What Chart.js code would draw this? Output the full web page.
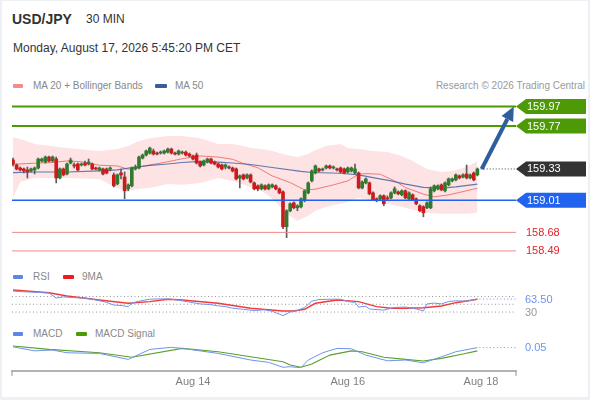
<!DOCTYPE html>
<html><head><meta charset="utf-8">
<script src="https://cdn.jsdelivr.net/npm/chart.js@4.4.1/dist/chart.umd.min.js"></script>
<style>
html,body{margin:0;padding:0;background:#edf1f5;}
body{width:590px;height:400px;overflow:hidden;position:relative;font-family:"Liberation Sans",Arial,sans-serif;}
#card{position:absolute;left:2px;top:1px;width:586px;height:396px;background:#fff;}
.t{position:absolute;white-space:nowrap;}
.sw{position:absolute;height:4px;border-radius:1px;}
canvas{position:absolute;left:0;}
</style>
</head><body>
<div id="card"></div>
<div class="t" style="left:12px;top:12px;font-size:14px;line-height:14px;font-weight:bold;color:#333">USD/JPY</div>
<div class="t" style="left:86px;top:13px;font-size:12px;line-height:12px;color:#333">30 MIN</div>
<div class="t" style="left:13px;top:42px;font-size:12px;line-height:12px;color:#333">Monday, August 17, 2026 5:45:20 PM CET</div>

<div class="sw" style="left:13px;top:84px;width:10px;background:#f78a8a"></div>
<div class="t" style="left:33px;top:81px;font-size:10px;line-height:10px;color:#888">MA 20 + Bollinger Bands</div>
<div class="sw" style="left:155px;top:84px;width:12px;background:#3a5e9a"></div>
<div class="t" style="left:175px;top:81px;font-size:10px;line-height:10px;color:#888">MA 50</div>
<div class="t" style="right:5px;top:81px;font-size:10px;line-height:10px;color:#999">Research © 2026 Trading Central</div>

<div class="sw" style="left:13px;top:275px;width:10px;background:#5b87e6"></div>
<div class="t" style="left:33px;top:272px;font-size:10px;line-height:10px;color:#888">RSI</div>
<div class="sw" style="left:63px;top:275px;width:11px;background:#ee1c1c"></div>
<div class="t" style="left:82px;top:272px;font-size:10px;line-height:10px;color:#888">9MA</div>

<div class="sw" style="left:13px;top:332px;width:10px;background:#5b87e6"></div>
<div class="t" style="left:33px;top:329px;font-size:10px;line-height:10px;color:#888">MACD</div>
<div class="sw" style="left:76px;top:332px;width:11px;background:#4e9a06"></div>
<div class="t" style="left:95px;top:329px;font-size:10px;line-height:10px;color:#888">MACD Signal</div>

<canvas id="cMain" width="590" height="165" style="top:95px"></canvas>
<canvas id="cRsi" width="590" height="37" style="top:283px"></canvas>
<canvas id="cMacd" width="590" height="75" style="top:325px"></canvas>

<script>
// ===================== DATA =====================
const candleOpen = [159.422,159.371,159.340,159.330,159.320,159.310,159.320,159.340,159.412,159.401,
159.452,159.412,159.432,159.238,159.330,159.279,159.391,159.371,159.381,159.371,
159.391,159.381,159.381,159.340,159.320,159.330,159.330,159.330,159.269,159.177,
159.289,159.248,159.126,159.157,159.330,159.340,159.442,159.473,159.493,159.514,
159.493,159.493,159.493,159.503,159.534,159.493,159.483,159.493,159.503,159.483,
159.463,159.473,159.401,159.371,159.401,159.432,159.401,159.381,159.371,159.350,
159.350,159.340,159.330,159.238,159.269,159.238,159.269,159.187,159.157,159.126,
159.157,159.126,159.146,159.157,159.126,159.095,158.738,158.902,158.983,158.932,
158.942,159.004,159.085,159.208,159.289,159.330,159.320,159.340,159.361,159.340,
159.330,159.340,159.330,159.299,159.310,159.289,159.289,159.136,159.187,159.187,
159.085,159.024,159.024,159.055,159.034,159.034,159.085,159.095,159.065,159.106,
159.024,159.065,159.024,158.953,158.942,158.932,158.932,159.106,159.126,159.167,
159.106,159.167,159.208,159.218,159.259,159.248,159.279,159.238,159.289,159.269];
const candleHigh = [159.442,159.381,159.350,159.340,159.350,159.340,159.350,159.442,159.442,159.463,
159.463,159.463,159.452,159.340,159.340,159.391,159.442,159.391,159.391,159.391,
159.412,159.432,159.391,159.350,159.350,159.340,159.340,159.350,159.289,159.279,
159.330,159.299,159.177,159.350,159.371,159.463,159.483,159.524,159.554,159.534,
159.503,159.514,159.524,159.544,159.544,159.503,159.524,159.514,159.514,159.493,
159.473,159.493,159.412,159.422,159.442,159.442,159.412,159.391,159.381,159.381,
159.361,159.350,159.340,159.269,159.279,159.279,159.279,159.197,159.167,159.177,
159.167,159.177,159.177,159.167,159.136,159.106,158.912,158.983,158.993,158.963,
159.034,159.116,159.197,159.320,159.371,159.340,159.340,159.371,159.371,159.361,
159.340,159.350,159.340,159.350,159.350,159.381,159.299,159.208,159.238,159.197,
159.095,159.034,159.065,159.065,159.055,159.095,159.146,159.106,159.116,159.116,
159.095,159.075,159.034,158.963,158.953,158.993,159.146,159.167,159.167,159.177,
159.197,159.238,159.238,159.279,159.269,159.279,159.371,159.279,159.299,159.340];
const candleLow = [159.361,159.320,159.310,159.289,159.238,159.299,159.279,159.330,159.401,159.391,
159.401,159.401,159.187,159.228,159.259,159.269,159.381,159.340,159.310,159.361,
159.361,159.371,159.320,159.320,159.310,159.269,159.279,159.310,159.146,159.167,
159.228,159.024,159.106,159.146,159.320,159.330,159.432,159.463,159.483,159.473,
159.473,159.483,159.483,159.493,159.483,159.473,159.473,159.483,159.463,159.452,
159.422,159.381,159.350,159.361,159.391,159.381,159.371,159.340,159.320,159.330,
159.330,159.299,159.218,159.136,159.218,159.228,159.187,159.116,159.106,159.116,
159.116,159.116,159.136,159.116,159.075,158.718,158.626,158.891,158.922,158.902,
158.932,158.993,159.075,159.197,159.279,159.299,159.310,159.330,159.330,159.330,
159.310,159.289,159.279,159.289,159.299,159.279,159.126,159.126,159.177,159.065,
159.004,158.993,159.014,158.953,159.014,159.024,159.075,159.065,159.055,159.024,
159.014,159.004,158.963,158.891,158.840,158.922,158.922,159.095,159.116,159.106,
159.095,159.157,159.197,159.208,159.228,159.238,159.228,159.228,159.208,159.259];
const candleClose = [159.381,159.330,159.320,159.310,159.299,159.330,159.340,159.432,159.432,159.452,
159.412,159.452,159.238,159.330,159.269,159.381,159.422,159.361,159.320,159.381,
159.371,159.401,159.330,159.330,159.340,159.279,159.289,159.340,159.157,159.269,
159.269,159.106,159.167,159.340,159.350,159.452,159.473,159.514,159.544,159.483,
159.483,159.503,159.514,159.534,159.493,159.483,159.514,159.503,159.473,159.463,
159.432,159.391,159.361,159.412,159.432,159.391,159.381,159.350,159.330,159.371,
159.340,159.310,159.228,159.259,159.228,159.269,159.197,159.126,159.126,159.167,
159.126,159.167,159.167,159.126,159.085,158.738,158.902,158.973,158.932,158.953,
159.024,159.106,159.187,159.310,159.361,159.310,159.330,159.361,159.340,159.350,
159.320,159.299,159.289,159.340,159.340,159.330,159.136,159.197,159.228,159.075,
159.014,159.014,159.055,158.973,159.024,159.085,159.126,159.075,159.106,159.034,
159.085,159.014,158.973,158.902,158.881,158.983,159.126,159.157,159.157,159.116,
159.187,159.228,159.228,159.269,159.238,159.269,159.238,159.269,159.218,159.330];

const bandX     = [0,2,6,15,24,29,32,35,38,43,47,52,57,61,64,66,69,72,74,76,79,82,84,87,91,93,96,100,104,108,111,115,119,122,126,129];
const bandUpper = [159.656,159.636,159.585,159.544,159.514,159.534,159.565,159.616,159.646,159.667,159.667,159.646,159.585,159.585,159.565,159.544,159.534,159.514,159.493,159.473,159.452,159.483,159.524,159.565,159.585,159.544,159.534,159.514,159.503,159.463,159.412,159.330,159.299,159.310,159.350,159.412];
const bandLower = [159.034,159.197,159.238,159.238,159.228,159.136,159.106,159.126,159.136,159.177,159.167,159.187,159.238,159.208,159.167,159.146,159.106,159.024,158.953,158.871,158.800,158.851,158.902,158.942,158.973,158.993,159.034,159.004,158.973,158.942,158.912,158.881,158.871,158.871,158.871,158.881];

const ma20X = [0,6,10,15,19,24,29,32,38,43,47,52,57,61,64,68,72,77,81,84,89,93,96,98,102,106,109,114,117,121,124,129];
const ma20  = [159.378,159.389,159.394,159.412,159.404,159.368,159.361,159.327,159.371,159.404,159.435,159.463,159.452,159.429,159.386,159.343,159.259,159.190,159.116,159.123,159.167,159.208,159.276,159.282,159.276,159.208,159.140,159.072,159.044,159.065,159.089,159.133];
const ma50X = [0,6,15,24,29,33,38,43,47,52,57,61,66,72,80,83,91,96,100,105,109,114,119,123,129];
const ma50  = [159.292,159.299,159.299,159.310,159.320,159.345,159.366,159.381,159.396,159.407,159.401,159.391,159.376,159.345,159.305,159.294,159.286,159.269,159.241,159.208,159.174,159.141,159.134,159.146,159.174];

const rsiX = [0,3,6,10,12,14,17,20,22,24,26,28,30,32,33,35,38,41,44,47,50,52,55,57,59,61,64,67,70,72,75,77,79,81,83,85,88,91,93,95,96,98,99,103,106,109,112,114,115,117,119,121,123,126,129];
const rsi  = [84,82,81,79,66,69,67,66,63,59,55,48,47,44,53,58,63,64,63,59,54,51,49,46,44,40,37,34,36,32,21,30,34,42,58,62,63,63,57,55,43,45,38,35,42,43,38,33,51,53,51,57,59,58,63.5];
const rsiMaX = [0,10,15,24,32,38,43,47,57,66,75,78,81,84,90,96,101,105,109,114,119,123,129];
const rsiMa  = [86.7,79.7,71.3,61,52.6,56.7,62.8,61,52.6,39.8,32.9,32.9,37.2,52.6,61,56.7,43.9,39.8,39.8,41.3,45.7,54.1,62.8];

const macdX = [0,6,11,15,24,32,38,44,47,57,66,71,75,77,80,82,86,90,94,98,104,109,114,119,123,129];
const macd  = [0.056,0.025,0.031,0.010,0.005,-0.041,0.036,0.052,0.044,0.005,-0.046,-0.064,-0.102,-0.098,-0.105,-0.046,0.010,0.044,0.041,-0.008,-0.052,-0.046,-0.067,-0.021,0.018,0.05];
const signalX = [0,10,24,33,47,57,66,75,77,80,83,88,94,97,103,109,114,119,125,129];
const signal  = [0.062,0.036,0.010,-0.025,0.044,0.018,-0.021,-0.059,-0.085,-0.102,-0.077,-0.008,0.025,0.018,-0.025,-0.041,-0.054,-0.033,0,0.025];

const xTickIdx    = [50, 93, 130];
const xTickLabels = ['Aug 14', 'Aug 16', 'Aug 18'];

const resistanceLevels = [159.97, 159.77];
const lastPrice = 159.33;
const supportLevels = [159.01];
const lowerLevels = [158.68, 158.49];
const arrowTarget = 159.97;
const rsiGuides = [70, 50, 30];
const rsiAxisLabel = 30;
const rsiLast = 63.50;
const macdLast = 0.05;

// ===================== STYLE / LAYOUT =====================
const FONT = '"Liberation Sans", Arial, sans-serif';
const UP = '#2e7d2e', DOWN = '#d0191b', WICK = '#5a5a5a';
const GREEN = '#4e9a06', BLUE = '#1f63ee', DARK = '#333333', LRED = '#f28a8a', TRED = '#e8202a';
const RSI_BLUE = '#6f93ec', MA_RED = '#f03a3a', SIG_GREEN = '#5aa02a';
const X_MIN = -0.28, X_MAX = 139.72;
const ARROW_FROM = 130.2, ARROW_TO = 139.1;
const PAD = {left: 12, right: 74, top: 0, bottom: 0};

const pts = (xs, ys) => xs.map((x, i) => ({x: x, y: ys[i]}));
const hiddenX = () => ({type: 'linear', min: X_MIN, max: X_MAX, offset: false, display: false});
const common = {
  responsive: false, animation: false, events: [],
  layout: {padding: PAD},
  plugins: {legend: {display: false}, tooltip: {enabled: false}}
};

function tag(ctx, x, y, text, fill) {
  const h = 7.5;
  ctx.save();
  ctx.beginPath();
  ctx.moveTo(x, y); ctx.lineTo(x + 10, y - h); ctx.lineTo(586, y - h);
  ctx.lineTo(586, y + h); ctx.lineTo(x + 10, y + h); ctx.closePath();
  ctx.fillStyle = fill; ctx.fill();
  ctx.fillStyle = '#fff'; ctx.font = '11px ' + FONT;
  ctx.textAlign = 'left'; ctx.textBaseline = 'middle';
  ctx.fillText(text, x + 11, y + 0.5);
  ctx.restore();
}
function hline(ctx, x0, x1, y, color, w, dash) {
  ctx.save(); ctx.beginPath(); ctx.strokeStyle = color; ctx.lineWidth = w;
  ctx.setLineDash(dash || []); ctx.moveTo(x0, y); ctx.lineTo(x1, y); ctx.stroke(); ctx.restore();
}

// ===================== MAIN CHART =====================
const mainPlugin = {
  id: 'mainDeco',
  afterDraw(chart) {
    const {ctx, chartArea: a, scales: {x, y}} = chart;
    resistanceLevels.forEach(v => hline(ctx, a.left, a.right, y.getPixelForValue(v), GREEN, 2));
    supportLevels.forEach(v => hline(ctx, a.left, a.right, y.getPixelForValue(v), BLUE, 1.5));
    lowerLevels.forEach(v => hline(ctx, a.left, a.right, y.getPixelForValue(v), LRED, 1));
    const yl = y.getPixelForValue(lastPrice);
    hline(ctx, x.getPixelForValue(ARROW_FROM) - 1, a.right, yl, '#444', 1, [1, 2]);
    resistanceLevels.forEach(v => tag(ctx, a.right, y.getPixelForValue(v), v.toFixed(2), GREEN));
    tag(ctx, a.right, yl, lastPrice.toFixed(2), DARK);
    supportLevels.forEach(v => tag(ctx, a.right, y.getPixelForValue(v), v.toFixed(2), BLUE));
    ctx.save();
    ctx.fillStyle = TRED; ctx.font = '11px ' + FONT; ctx.textBaseline = 'middle';
    lowerLevels.forEach(v => ctx.fillText(v.toFixed(2), a.right + 10, y.getPixelForValue(v) + 0.5));
    ctx.restore();
    // arrow
    const x0 = x.getPixelForValue(ARROW_FROM), y0 = yl;
    const x1 = x.getPixelForValue(ARROW_TO), y1 = y.getPixelForValue(arrowTarget);
    const ang = Math.atan2(y1 - y0, x1 - x0), L = 14, W = 6.5;
    const bx = x1 - L * Math.cos(ang), by = y1 - L * Math.sin(ang);
    ctx.save();
    ctx.strokeStyle = '#2e5e9e'; ctx.fillStyle = '#2e5e9e'; ctx.lineWidth = 4; ctx.lineCap = 'butt';
    ctx.beginPath(); ctx.moveTo(x0, y0); ctx.lineTo(bx, by); ctx.stroke();
    ctx.beginPath(); ctx.moveTo(x1, y1);
    ctx.lineTo(bx + W * Math.sin(ang), by - W * Math.cos(ang));
    ctx.lineTo(bx - W * Math.sin(ang), by + W * Math.cos(ang));
    ctx.closePath(); ctx.fill();
    ctx.restore();
  }
};

new Chart(document.getElementById('cMain'), {
  type: 'bar',
  data: {
    datasets: [
      {type: 'line', data: pts(bandX, bandUpper), borderWidth: 0, pointRadius: 0, fill: false, order: 4},
      {type: 'line', data: pts(bandX, bandLower), borderWidth: 0, pointRadius: 0, fill: '-1', backgroundColor: '#fde3e3', order: 4},
      {type: 'line', data: pts(ma20X, ma20), borderColor: 'rgba(238,95,95,0.8)', borderWidth: 1, pointRadius: 0, fill: false, order: 3},
      {type: 'line', data: pts(ma50X, ma50), borderColor: 'rgba(58,94,160,0.8)', borderWidth: 1.2, pointRadius: 0, fill: false, order: 2},
      {type: 'bar', grouped: false, order: 1, barThickness: 1, backgroundColor: WICK, minBarLength: 1,
       data: candleHigh.map((h, i) => ({x: i, y: [candleLow[i], h]}))},
      {type: 'bar', grouped: false, order: 0, barThickness: 3, minBarLength: 1,
       backgroundColor: c => candleClose[c.dataIndex] >= candleOpen[c.dataIndex] ? UP : DOWN,
       data: candleOpen.map((o, i) => ({x: i, y: [o, candleClose[i]]}))}
    ]
  },
  options: Object.assign({}, common, {
    scales: {
      x: hiddenX(),
      y: {type: 'linear', min: 158.397, max: 160.088, display: false, beginAtZero: false}
    }
  }),
  plugins: [mainPlugin]
});

// ===================== RSI CHART =====================
const rsiPlugin = {
  id: 'rsiDeco',
  beforeDatasetsDraw(chart) {
    const {ctx, chartArea: a, scales: {y}} = chart;
    rsiGuides.forEach(v => hline(ctx, a.left, a.right, y.getPixelForValue(v), '#9a9a9a', 1, [1, 2.5]));
  },
  afterDraw(chart) {
    const {ctx, chartArea: a, scales: {x, y}} = chart;
    const yl = y.getPixelForValue(rsiLast);
    hline(ctx, x.getPixelForValue(rsiX[rsiX.length - 1]) + 2, a.right, yl, RSI_BLUE, 1, [1, 2.5]);
    ctx.save(); ctx.font = '11px ' + FONT; ctx.textBaseline = 'middle';
    ctx.fillStyle = '#999'; ctx.fillText(String(rsiAxisLabel), a.right + 9, y.getPixelForValue(rsiAxisLabel) + 0.5);
    ctx.fillStyle = RSI_BLUE; ctx.fillText(rsiLast.toFixed(2), a.right + 9, yl + 0.5);
    ctx.restore();
  }
};
new Chart(document.getElementById('cRsi'), {
  type: 'line',
  data: {datasets: [
    {data: pts(rsiMaX, rsiMa), borderColor: MA_RED, borderWidth: 1.4, pointRadius: 0, order: 1},
    {data: pts(rsiX, rsi), borderColor: RSI_BLUE, borderWidth: 1, pointRadius: 0, order: 0}
  ]},
  options: Object.assign({}, common, {
    scales: {x: hiddenX(), y: {type: 'linear', min: 9.7, max: 104.6, display: false}}
  }),
  plugins: [rsiPlugin]
});

// ===================== MACD CHART =====================
const macdPlugin = {
  id: 'macdDeco',
  afterDraw(chart) {
    const {ctx, chartArea: a, scales: {x, y}} = chart;
    const yl = y.getPixelForValue(macdLast);
    hline(ctx, x.getPixelForValue(macdX[macdX.length - 1]) + 2, a.right, yl, RSI_BLUE, 1, [1, 2.5]);
    ctx.save(); ctx.font = '11px ' + FONT; ctx.textBaseline = 'middle';
    ctx.fillStyle = RSI_BLUE; ctx.fillText(macdLast.toFixed(2), a.right + 9, yl + 0.5);
    ctx.strokeStyle = '#b3b3b3'; ctx.lineWidth = 1.5;
    [a.left, a.right].forEach(px => { ctx.beginPath(); ctx.moveTo(px, a.bottom); ctx.lineTo(px, a.bottom + 5); ctx.stroke(); });
    ctx.restore();
  }
};
new Chart(document.getElementById('cMacd'), {
  type: 'line',
  data: {datasets: [
    {data: pts(signalX, signal), borderColor: SIG_GREEN, borderWidth: 1.1, pointRadius: 0, order: 1},
    {data: pts(macdX, macd), borderColor: RSI_BLUE, borderWidth: 1, pointRadius: 0, order: 0}
  ]},
  options: Object.assign({}, common, {
    layout: {padding: {left: 12, right: 74, top: 0, bottom: 6}},
    scales: {
      x: {type: 'linear', min: X_MIN, max: X_MAX, offset: false,
          grid: {display: false, drawTicks: false},
          border: {display: true, color: '#b3b3b3', width: 2},
          afterBuildTicks: s => { s.ticks = xTickIdx.map(v => ({value: v})); },
          ticks: {autoSkip: false, maxRotation: 0, padding: 5, color: '#7f7f7f',
                  font: {size: 11, family: FONT},
                  callback: v => { const k = xTickIdx.indexOf(v); return k >= 0 ? xTickLabels[k] : ''; }}},
      y: {type: 'linear', min: -0.1292, max: 0.2246, display: false}
    }
  }),
  plugins: [macdPlugin]
});
</script>
</body></html>
